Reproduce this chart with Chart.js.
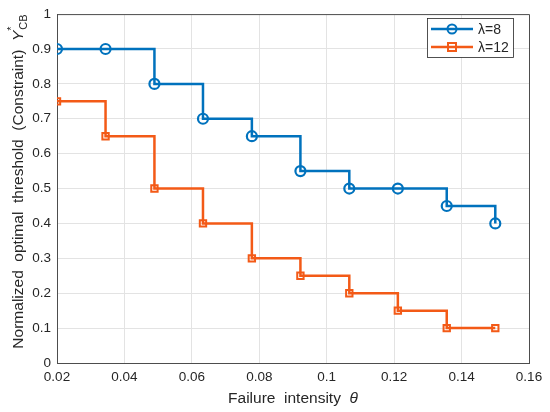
<!DOCTYPE html>
<html>
<head>
<meta charset="utf-8">
<script src="https://cdn.jsdelivr.net/npm/chart.js@4"></script>
<style>
  html, body { margin: 0; padding: 0; background: #fff; }
  #wrap { width: 550px; height: 412px; }
</style>
</head>
<body>
<div id="wrap"><canvas id="myChart" width="550" height="412"></canvas></div>
<script>
const theta = [0.02, 0.0344, 0.0489, 0.0633, 0.0778, 0.0922, 0.1067, 0.1211, 0.1356, 0.15];
const lambda8 = [0.9, 0.9, 0.8, 0.7, 0.65, 0.55, 0.5, 0.5, 0.45, 0.4];
const lambda12 = [0.75, 0.65, 0.5, 0.4, 0.3, 0.25, 0.2, 0.15, 0.1, 0.1];
const seriesNames = ['\u03bb=8', '\u03bb=12'];
const blue = '#0072BD';
const orange = '#F35A17';
const font = '"Liberation Sans", Arial, sans-serif';
const txt = '#262626';

function pts(xs, ys) {
  return xs.map((x, i) => ({x: x, y: ys[i]}));
}

// axis titles with italic / sub / superscripts, box outline and legend
const extras = {
  id: 'extras',
  afterDraw(chart) {
    const c = chart.ctx;
    const a = chart.chartArea;
    c.save();
    // box top + right
    c.strokeStyle = '#4d4d4d';
    c.lineWidth = 1;
    c.beginPath();
    c.moveTo(a.left, a.top + 0.5);
    c.lineTo(a.right + 0.5, a.top + 0.5);
    c.lineTo(a.right + 0.5, a.bottom);
    c.stroke();

    c.fillStyle = txt;
    c.textBaseline = 'alphabetic';

    // x title
    const fs = 15.5;
    const xa = 'Failure  intensity  ';
    c.font = fs + 'px ' + font;
    const w1 = c.measureText(xa).width;
    c.font = 'italic ' + fs + 'px ' + font;
    const w2 = c.measureText('\u03b8').width;
    let x0 = (a.left + a.right) / 2 - (w1 + w2) / 2;
    c.font = fs + 'px ' + font;
    c.fillText(xa, x0, 403);
    c.font = 'italic ' + fs + 'px ' + font;
    c.fillText('\u03b8', x0 + w1, 403);

    // y title (rotated)
    c.save();
    c.translate(23, (a.top + a.bottom) / 2 - 7);
    c.rotate(-Math.PI / 2);
    const ya = 'Normalized  optimal  threshold  (Constraint)  ';
    c.font = fs + 'px ' + font;
    const wa = c.measureText(ya).width;
    c.font = 'italic ' + fs + 'px ' + font;
    const wy = c.measureText('Y').width;
    c.font = '11px ' + font;
    const wc = c.measureText('CB').width;
    let s = -(wa + wy + wc + 1) / 2;
    c.font = fs + 'px ' + font;
    c.fillText(ya, s, 0);
    c.font = 'italic ' + fs + 'px ' + font;
    c.fillText('Y', s + wa, 0);
    c.font = '11px ' + font;
    c.fillText('*', s + wa + wy, -8);
    c.fillText('CB', s + wa + wy + 1, 4);
    c.restore();

    // legend
    const lx = 427, ly = 18, lw = 86, lh = 39;
    c.fillStyle = '#fff';
    c.fillRect(lx, ly, lw, lh);
    c.strokeStyle = '#262626';
    c.lineWidth = 0.8;
    c.strokeRect(lx + 0.5, ly + 0.5, lw, lh);
    chart.data.datasets.forEach((ds, i) => {
      const yy = ly + 11 + i * 18;
      c.strokeStyle = ds.borderColor;
      c.lineWidth = 2.5;
      c.beginPath();
      c.moveTo(431, yy);
      c.lineTo(473, yy);
      c.stroke();
      c.lineWidth = 2;
      c.beginPath();
      if (ds.pointStyle === 'circle') {
        c.arc(452, yy, 4.5, 0, Math.PI * 2);
      } else {
        c.rect(448, yy - 4, 8, 8);
      }
      c.stroke();
      c.fillStyle = txt;
      c.font = '14px ' + font;
      c.textBaseline = 'middle';
      c.fillText(ds.label, 478, yy + 1);
    });
    c.restore();
  }
};

const ctx = document.getElementById('myChart');

new Chart(ctx, {
  type: 'line',
  data: {
    datasets: [{
      label: seriesNames[0],
      data: pts(theta, lambda8),
      borderColor: blue,
      backgroundColor: 'rgba(0,0,0,0)',
      borderWidth: 2.5,
      stepped: 'before',
      pointStyle: 'circle',
      pointRadius: 5,
      pointBorderWidth: 2.2,
      pointBackgroundColor: 'rgba(0,0,0,0)'
    }, {
      label: seriesNames[1],
      data: pts(theta, lambda12),
      borderColor: orange,
      backgroundColor: 'rgba(0,0,0,0)',
      borderWidth: 2.5,
      stepped: 'before',
      pointStyle: 'rect',
      pointRadius: 4.5,
      pointBorderWidth: 2,
      pointBackgroundColor: 'rgba(0,0,0,0)'
    }]
  },
  options: {
    responsive: false,
    animation: false,
    layout: {padding: {top: 13, right: 21, left: 0, bottom: 0}},
    plugins: {
      legend: {display: false},
      tooltip: {enabled: false}
    },
    scales: {
      x: {
        type: 'linear',
        min: 0.02,
        max: 0.16,
        afterFit: (s) => { s.height = 49; },
        ticks: {
          stepSize: 0.02,
          color: txt,
          padding: 6,
          maxRotation: 0,
          font: {family: font, size: 13.5},
          callback: (v) => Number(v.toFixed(2)).toString()
        },
        grid: {color: '#e3e3e3', drawTicks: false},
        border: {color: '#4d4d4d', width: 1}
      },
      y: {
        min: 0,
        max: 1,
        afterFit: (s) => { s.width = 57; },
        ticks: {
          stepSize: 0.1,
          color: txt,
          padding: 6,
          font: {family: font, size: 13.5},
          callback: (v) => Number(v.toFixed(1)).toString()
        },
        grid: {color: '#e3e3e3', drawTicks: false},
        border: {color: '#4d4d4d', width: 1}
      }
    }
  },
  plugins: [extras]
});
</script>
</body>
</html>
